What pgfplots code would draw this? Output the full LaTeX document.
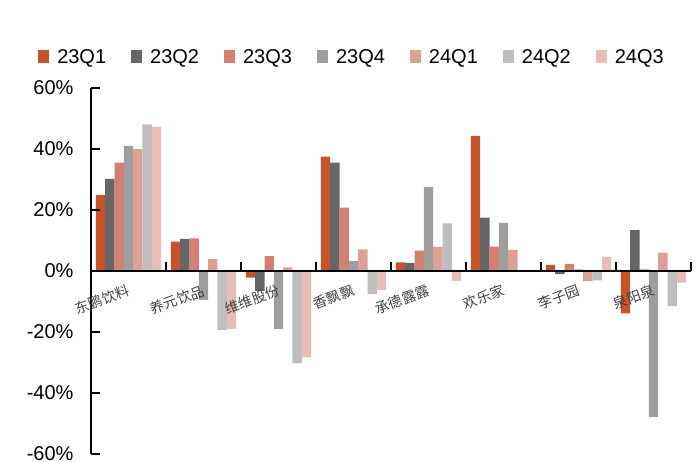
\documentclass[border=0pt]{standalone}
\usepackage{pgfplots}
\pgfplotsset{compat=1.18}
\usepackage{pgfplotstable}
\usepackage{fontspec}
\setmainfont{Liberation Sans}
\newfontfamily\cjk{Noto Sans CJK SC}
\definecolor{ca}{RGB}{200,82,42}
\definecolor{cb}{RGB}{102,102,102}
\definecolor{cc}{RGB}{212,128,112}
\definecolor{cd}{RGB}{158,158,158}
\definecolor{ce}{RGB}{221,160,148}
\definecolor{cf}{RGB}{190,190,190}
\definecolor{cg}{RGB}{232,188,184}
\pgfplotstableread{
x q1 q2 q3 q4 q5 q6 q7
0 24.9 30.2 35.5 41.0 40.0 48.1 47.3
1 9.6 10.5 10.7 -9.5 4.0 -19.3 -19.0
2 -2.2 -6.5 4.9 -19.0 1.2 -30.3 -28.3
3 37.5 35.5 20.8 3.2 7.1 -7.6 -6.2
4 2.8 2.7 6.7 27.6 7.9 15.6 -3.2
5 44.3 17.5 8.0 15.8 6.9 0.3 0.3
6 2.0 -1.0 2.3 0.5 -3.3 -3.1 4.7
7 -13.9 13.4 0.5 -47.8 6.0 -11.5 -3.8
}\datatable
\begin{document}
\begin{tikzpicture}
\clip (0,0) rectangle (700pt,462pt);
\path[use as bounding box] (0,0) rectangle (700pt,462pt);
\begin{axis}[
  at={(91pt,8pt)}, anchor=south west,
  scale only axis, width=600pt, height=366pt,
  ybar=0pt, bar width=9.33pt,
  xmin=-0.5, xmax=7.5, ymin=-60, ymax=60,
  axis x line=bottom, axis y line=left,
  axis x line shift=-183pt,
  axis line style={-},
  x axis line style={line width=1.6pt},
  y axis line style={line width=1.2pt},
  axis on top,
  tick align=inside,
  major tick length=9pt,
  tick style={black, line width=1.2pt},
  xtick={-0.5,0.5,...,7.5}, xticklabels={},
  extra x ticks={0,1,2,3,4,5,6,7},
  extra x tick labels={东鹏饮料,养元饮品,维维股份,香飘飘,承德露露,欢乐家,李子园,泉阳泉},
  extra x tick style={tick style={draw=none},
    xticklabel style={font=\cjk\fontsize{14}{16}\selectfont, text=black!75, rotate=20, anchor=north east, xshift=-3pt, yshift=-8pt}},
  ytick={-60,-40,-20,0,20,40,60},
  yticklabels={-60\%,-40\%,-20\%,0\%,20\%,40\%,60\%},
  yticklabel style={font=\fontsize{20}{24}\selectfont, xshift=-14pt},
  legend style={at={(axis description cs:0.435,1.085)}, anchor=center, draw=none, fill=none,
    legend columns=7, font=\fontsize{20}{24}\selectfont,
    /tikz/every even column/.append style={column sep=23pt},
    /tikz/every odd column/.append style={column sep=6pt}},
  legend image code/.code={\fill[#1] (0pt,-6.5pt) rectangle (11pt,6.5pt);},
]
\addplot[fill=ca, draw=none] table[x=x,y=q1] {\datatable};
\addplot[fill=cb, draw=none] table[x=x,y=q2] {\datatable};
\addplot[fill=cc, draw=none] table[x=x,y=q3] {\datatable};
\addplot[fill=cd, draw=none] table[x=x,y=q4] {\datatable};
\addplot[fill=ce, draw=none] table[x=x,y=q5] {\datatable};
\addplot[fill=cf, draw=none] table[x=x,y=q6] {\datatable};
\addplot[fill=cg, draw=none] table[x=x,y=q7] {\datatable};
\legend{23Q1,23Q2,23Q3,23Q4,24Q1,24Q2,24Q3}
\end{axis}
\end{tikzpicture}
\end{document}
